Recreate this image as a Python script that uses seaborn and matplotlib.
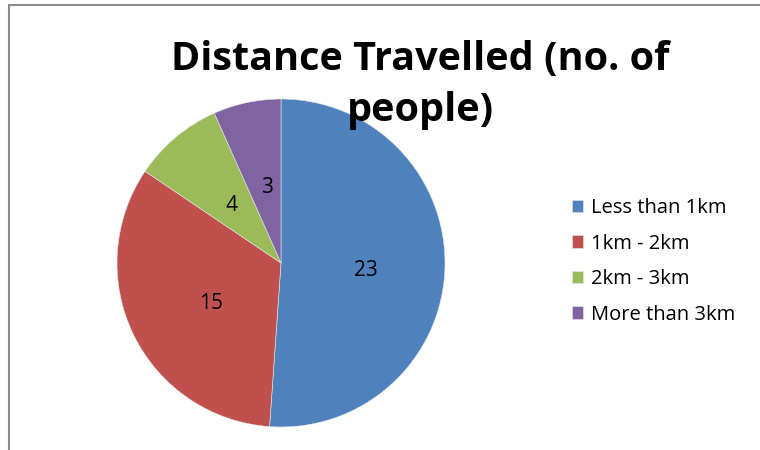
import numpy as np
import seaborn as sns
from matplotlib import pyplot as plt
from matplotlib.lines import Line2D

# data
categories = ['Less than 1km', '1km - 2km', '2km - 3km', 'More than 3km']
people = [23, 15, 4, 3]
colors = ['#4F81BD', '#C0504D', '#9BBB59', '#8064A2']

sns.set_theme(style="white")
plt.rcParams['font.family'] = ['Open Sans', 'DejaVu Sans']

fig = plt.figure(figsize=(7.6, 4.5), dpi=100)

# pie axes (square, placed in pixels)
ax = fig.add_axes([117 / 760, 23 / 450, 328 / 760, 328 / 450])
total = sum(people)
wedges, texts, autotexts = ax.pie(
    people, colors=colors, startangle=90, counterclock=False,
    autopct=lambda p: f"{int(round(p * total / 100))}", pctdistance=0.5,
    wedgeprops=dict(linewidth=0.4, edgecolor='#e8e8e8'),
    textprops=dict(fontsize=15, color='black'))
# labels sit a little lower in the original
for t in autotexts:
    x, y = t.get_position()
    t.set_position((x + 0.02, y - 0.03))
ax.set_xlim(-1, 1)
ax.set_ylim(-1, 1)
ax.set_aspect('equal')

# title
fig.text(420 / 760, 1 - 85 / 450, 'Distance Travelled (no. of\npeople)',
         ha='center', va='center', fontsize=28.5, fontweight='bold',
         color='black', linespacing=1.42)

# legend
leg = fig.legend(wedges, categories, loc='upper left',
                 bbox_to_anchor=(562 / 760, 1 - 188 / 450), frameon=False,
                 fontsize=14.5, handlelength=0.55, handleheight=0.55,
                 handletextpad=0.4, labelspacing=0.77, borderpad=0)
for t in leg.get_texts():
    t.set_color('black')

# chart border (top and left edges visible)
fig.add_artist(Line2D([8.5 / 760, 8.5 / 760], [0, 1 - 4.5 / 450],
                      color='#8c8c8c', linewidth=1.5))
fig.add_artist(Line2D([8.5 / 760, 1], [1 - 4.5 / 450, 1 - 4.5 / 450],
                      color='#8c8c8c', linewidth=1.5))

plt.savefig('out.png', dpi=100)
